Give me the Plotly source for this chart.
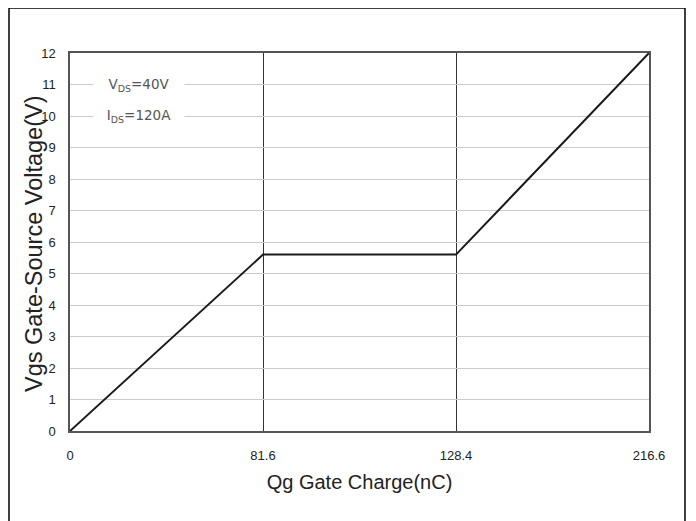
import plotly.graph_objects as go

# Data
qg_labels = ["0", "81.6", "128.4", "216.6"]      # x categories (nC)
vgs_values = [0, 5.6, 5.6, 12]                   # Vgs (V)
y_ticks = list(range(0, 13))
note_lines = ["V<sub>DS</sub>=40V", "I<sub>DS</sub>=120A"]
note_levels = [11, 10]

FONT = "Liberation Sans, Arial, sans-serif"
PW, PH = 579, 378   # plot area size in px

fig = go.Figure()
fig.add_trace(go.Scatter(
    x=qg_labels, y=vgs_values, mode="lines",
    line=dict(color="#1a1a1a", width=2),
    hoverinfo="skip", showlegend=False,
))

# notes sitting on white boxes that break the gridlines
for lvl, txt in zip(note_levels, note_lines):
    fig.add_annotation(xref="paper", yref="y", x=27 / PW, y=lvl,
                       text=txt, showarrow=False, xanchor="left", yanchor="middle",
                       width=90, height=20, align="center", bgcolor="white",
                       xshift=-4, borderpad=0,
                       font=dict(family="DejaVu Sans, sans-serif", size=13.5, color="#555555"))

# y axis title (placed as rotated text)
fig.add_annotation(xref="paper", yref="paper", x=-36 / PW, y=(431 - 244) / PH,
                   text="Vgs Gate-Source Voltage(V)", textangle=-90, showarrow=False,
                   xanchor="center", yanchor="middle",
                   font=dict(family=FONT, size=23.5, color="#222"))

# outer frame
fig.add_shape(type="rect", xref="paper", yref="paper",
              x0=-61 / PW, x1=615 / PW,
              y0=-0.4, y1=423 / PH,
              line=dict(color="black", width=1.5), fillcolor="rgba(0,0,0,0)")

fig.update_layout(
    width=696, height=521,
    margin=dict(l=62, r=55, t=45, b=98),
    paper_bgcolor="white", plot_bgcolor="white",
    font=dict(family=FONT, color="#222"),
)
fig.update_xaxes(
    type="category", categoryorder="array", categoryarray=qg_labels,
    range=[0, 3], automargin=False,
    showgrid=True, gridcolor="#333333", gridwidth=1,
    showline=True, linecolor="#555555", linewidth=1.5, mirror=True,
    ticks="", ticklabelstandoff=12,
    tickfont=dict(family=FONT, size=13, color="#222"),
    title=dict(text="Qg Gate Charge(nC)", font=dict(family=FONT, size=20, color="#222"), standoff=13),
    zeroline=False,
)
fig.update_yaxes(
    range=[0, 12], tickvals=y_ticks, automargin=False,
    showgrid=True, gridcolor="#cccccc", gridwidth=1,
    showline=True, linecolor="#555555", linewidth=1.5, mirror=True,
    ticks="", ticklabelstandoff=10,
    tickfont=dict(family=FONT, size=13, color="#222"),
    zeroline=False,
)

fig.write_html("out.html")
